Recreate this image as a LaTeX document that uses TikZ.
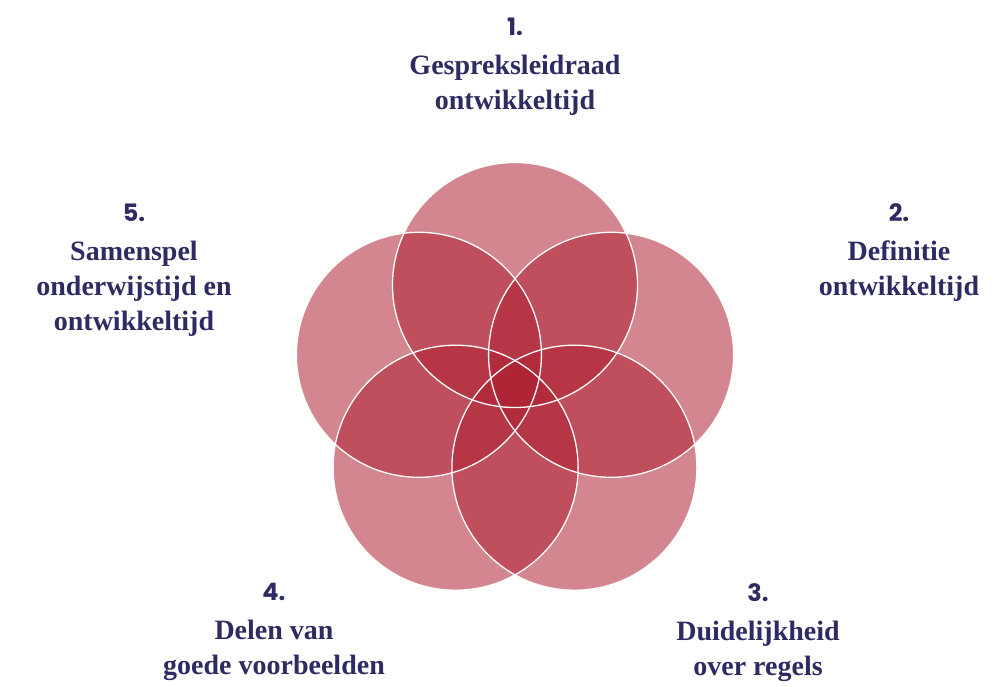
\documentclass[tikz,border=0pt]{standalone}
\usepackage{fontspec}
\setmainfont{Liberation Serif}
\newfontfamily\numfont{Poppins}
\definecolor{petal}{RGB}{174,33,50}
\definecolor{ink}{RGB}{45,43,98}
\tikzset{
  petalfill/.style={fill=petal,fill opacity=0.545},
  petalline/.style={draw=white,line width=1.3pt},
  label/.style={anchor=base,align=center,text=ink,inner sep=0pt,
    font=\fontsize{28}{35}\selectfont\bfseries},
}
\newcommand{\numlab}[1]{{\numfont\fontsize{24}{35}\selectfont\bfseries #1}}
\begin{document}
\begin{tikzpicture}[x=1pt,y=-1pt]
\useasboundingbox (0,0) rectangle (1008,686);
\coordinate (c1) at (515,285);
\coordinate (c2) at (611.1,354.8);
\coordinate (c3) at (574.4,467.7);
\coordinate (c4) at (455.6,467.7);
\coordinate (c5) at (418.9,354.8);
\foreach \i in {1,...,5}{
  \fill[petalfill] (c\i) circle [radius=122.5pt];
}
\foreach \i in {1,...,5}{
  \draw[petalline] (c\i) circle [radius=122.5pt];
}
\node[label] (l1) at (515,109) {\numlab{1.}\\[4pt]Gespreksleidraad\\ontwikkeltijd};
\node[label] (l2) at (899,295) {\numlab{2.}\\[4pt]Definitie\\ontwikkeltijd};
\node[label] (l3) at (758,675) {\numlab{3.}\\[4pt]Duidelijkheid\\over regels};
\node[label] (l4) at (274,674) {\numlab{4.}\\[4pt]Delen van\\goede voorbeelden};
\node[label] (l5) at (134,330) {\numlab{5.}\\[4pt]Samenspel\\onderwijstijd en\\ontwikkeltijd};
\end{tikzpicture}
\end{document}
